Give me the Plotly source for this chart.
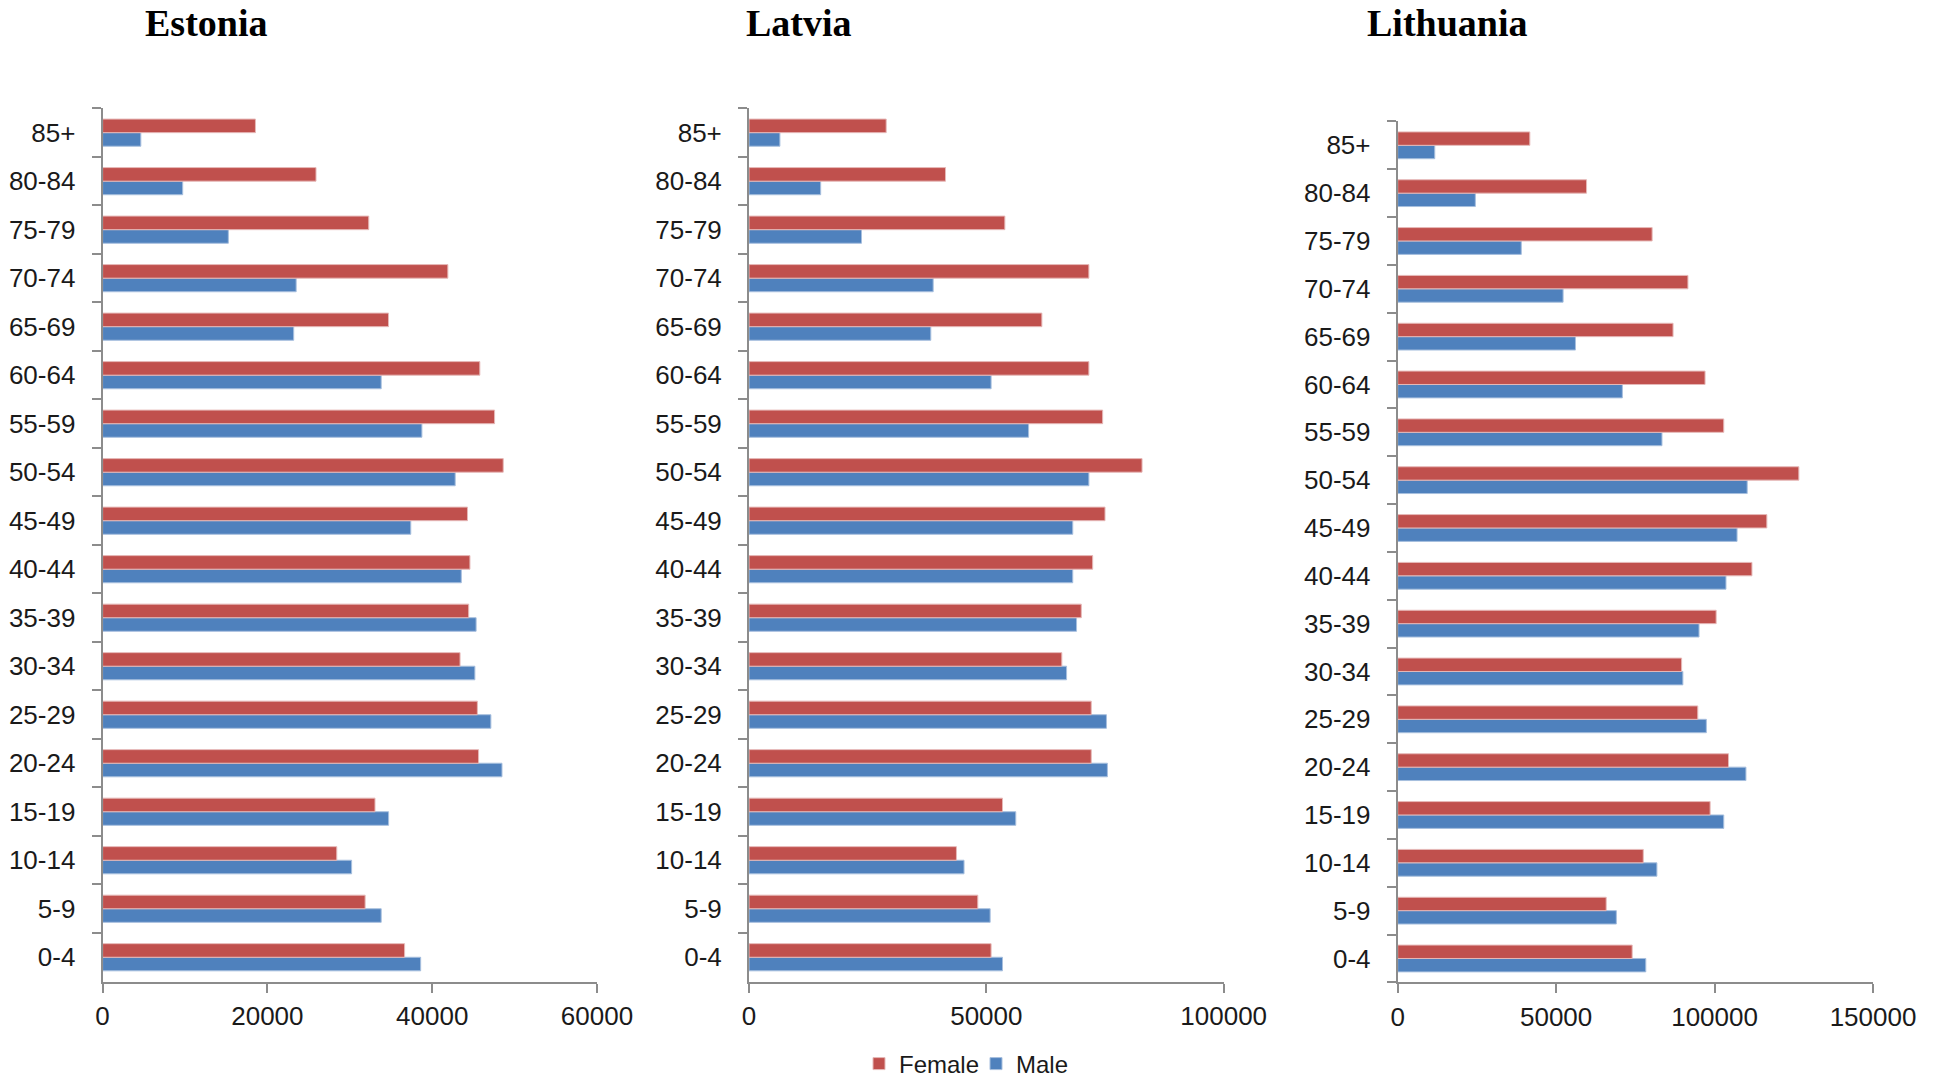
import plotly.graph_objects as go

age_groups = ['0-4', '5-9', '10-14', '15-19', '20-24', '25-29', '30-34', '35-39', '40-44',
              '45-49', '50-54', '55-59', '60-64', '65-69', '70-74', '75-79', '80-84', '85+']

estonia_female = [36650, 31860, 28420, 33060, 45630, 45480, 43380, 44430, 44580,
                  44280, 48620, 47570, 45780, 34700, 41900, 32300, 25900, 18550]
estonia_male = [38600, 33810, 30220, 34710, 48470, 47120, 45180, 45330, 43530,
                37400, 42790, 38750, 33810, 23190, 23490, 15260, 9720, 4640]

latvia_female = [51000, 48200, 43700, 53400, 72100, 72100, 65900, 70000, 72400,
                 75000, 82800, 74500, 71600, 61700, 71600, 53900, 41400, 28900]
latvia_male = [53400, 50800, 45300, 56200, 75500, 75300, 66900, 69000, 68200,
               68200, 71600, 58900, 51000, 38300, 38800, 23700, 15100, 6510]

lithuania_female = [74000, 65800, 77500, 98600, 104400, 94700, 89600, 100500, 111800,
                    116500, 126600, 102900, 97000, 86900, 91600, 80300, 59600, 41700]
lithuania_male = [78300, 69000, 81800, 102900, 109900, 97400, 90000, 95100, 103600,
                  107100, 110300, 83400, 70900, 56100, 52200, 39000, 24500, 11700]

countries = ['Estonia', 'Latvia', 'Lithuania']
x_max = [60000, 100000, 150000]
x_dtick = [20000, 50000, 50000]

RED = '#C0504D'
BLUE = '#4F81BD'
W, H = 1934, 1078
FONT = 'Liberation Sans, Arial, sans-serif'

# panel geometry in pixels
x_dom_px = [(94.6, 589), (741, 1215.7), (1389.7, 1865)]
y_dom_px = [(100.4, 973.5), (100.4, 973.5), (113.4, 974.4)]
title_x_px = [198, 790.5, 1439.6]

fig = go.Figure()
data = [(estonia_male, estonia_female), (latvia_male, latvia_female), (lithuania_male, lithuania_female)]
for i, (male, female) in enumerate(data):
    sfx = '' if i == 0 else str(i + 1)
    fig.add_trace(go.Bar(y=age_groups, x=male, orientation='h', name='Male',
                         marker=dict(color=BLUE, line=dict(color='#A7BFDE', width=1)),
                         xaxis='x' + sfx, yaxis='y' + sfx, showlegend=(i == 0)))
    fig.add_trace(go.Bar(y=age_groups, x=female, orientation='h', name='Female',
                         marker=dict(color=RED, line=dict(color='#E6B9B8', width=1)),
                         xaxis='x' + sfx, yaxis='y' + sfx, showlegend=(i == 0)))

layout = dict(
    width=W, height=H,
    margin=dict(l=0, r=0, t=0, b=0, autoexpand=False),
    paper_bgcolor='white', plot_bgcolor='white',
    barmode='group', bargap=0.44, bargroupgap=0,
    font=dict(family=FONT, size=26, color='#1a1a1a'),
    legend=dict(orientation='h', traceorder='reversed', x=968 / W, xanchor='center',
                y=1 - 1056 / H, yanchor='middle', font=dict(size=24, family=FONT),
                itemwidth=30, entrywidth=72, entrywidthmode='pixels'),
    showlegend=True,
)
annotations = []
for i in range(3):
    sfx = '' if i == 0 else str(i + 1)
    x0, x1 = x_dom_px[i]
    yt, yb = y_dom_px[i]
    layout['xaxis' + sfx] = dict(
        domain=[x0 / W, x1 / W], anchor='y' + sfx, range=[0, x_max[i]], dtick=x_dtick[i],
        tick0=0, tickformat='d', automargin=False,
        showgrid=False, zeroline=False, showline=True, linecolor='#8C8C8C', linewidth=2,
        ticks='outside', ticklen=9, tickcolor='#8C8C8C', tickwidth=1.5,
        ticklabelstandoff=1, tickfont=dict(size=26, family=FONT))
    layout['yaxis' + sfx] = dict(
        domain=[1 - yb / H, 1 - yt / H], anchor='x' + sfx, type='category',
        categoryorder='array', categoryarray=age_groups, automargin=False,
        showgrid=False, zeroline=False, showline=True, linecolor='#8C8C8C', linewidth=2,
        ticks='outside', tickson='boundaries', ticklen=9, tickcolor='#8C8C8C', tickwidth=1.5,
        ticklabelstandoff=20, tickfont=dict(size=26, family=FONT))
    annotations.append(dict(text='<b>' + countries[i] + '</b>', xref='paper', yref='paper',
                            x=title_x_px[i] / W, y=1 - 15 / H, xanchor='center', yanchor='middle',
                            showarrow=False, borderpad=0,
                            font=dict(family='Liberation Serif, Times New Roman, serif', size=38,
                                      color='black')))
layout['annotations'] = annotations
fig.update_layout(**layout)
fig.write_html('out.html')
